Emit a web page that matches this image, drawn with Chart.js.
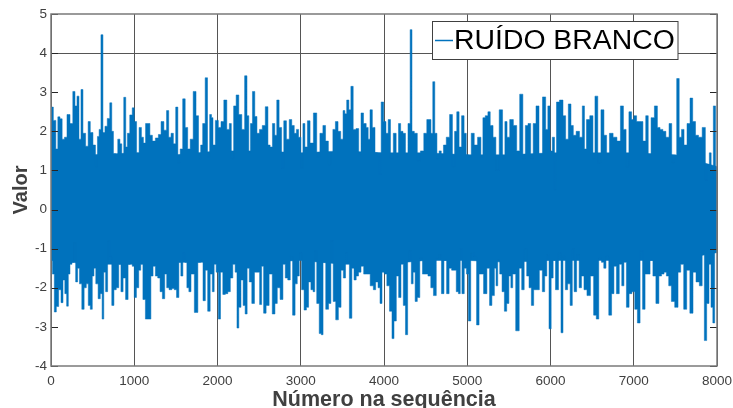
<!DOCTYPE html>
<html>
<head>
<meta charset="utf-8">
<title>Ruído branco</title>
<script src="https://cdn.jsdelivr.net/npm/chart.js@4"></script>
<style>
    html, body { margin: 0; padding: 0; background: #fff; overflow: hidden; }
    #wrap { position: relative; width: 733px; height: 408px; }
</style>
</head>
<body>
<div id="wrap"><canvas id="canvas" width="733" height="408"></canvas></div>
<script>
// Peaks: upper and lower outline of the noise band
const upperX = [0, 8, 48, 68, 96, 120, 148, 176, 208, 248, 276, 300, 324, 348, 372, 396, 436, 456, 488, 520, 548, 568, 588, 612, 636, 660, 692, 720, 740, 760, 788, 816, 840, 860, 888, 908, 928, 964, 988, 1012, 1044, 1072, 1100, 1120, 1152, 1176, 1200, 1236, 1272, 1308, 1336, 1376, 1400, 1428, 1456, 1484, 1512, 1536, 1568, 1596, 1628, 1656, 1688, 1728, 1756, 1788, 1808, 1836, 1868, 1892, 1920, 1936, 1956, 1992, 2028, 2056, 2096, 2128, 2156, 2176, 2212, 2236, 2276, 2308, 2344, 2364, 2388, 2404, 2436, 2460, 2488, 2520, 2556, 2592, 2620, 2644, 2676, 2700, 2724, 2756, 2784, 2808, 2848, 2876, 2908, 2936, 2960, 2988, 3016, 3036, 3064, 3096, 3128, 3176, 3208, 3252, 3280, 3316, 3348, 3372, 3400, 3432, 3464, 3496, 3520, 3540, 3564, 3592, 3612, 3648, 3680, 3712, 3736, 3772, 3800, 3820, 3844, 3876, 3908, 3932, 3952, 3980, 4012, 4036, 4064, 4092, 4132, 4160, 4188, 4212, 4244, 4272, 4304, 4324, 4348, 4380, 4420, 4456, 4500, 4528, 4552, 4576, 4596, 4624, 4648, 4676, 4700, 4728, 4768, 4808, 4836, 4860, 4888, 4916, 4948, 4976, 5000, 5028, 5068, 5100, 5148, 5180, 5196, 5236, 5260, 5292, 5328, 5360, 5408, 5440, 5464, 5492, 5528, 5580, 5608, 5652, 5684, 5712, 5748, 5776, 5808, 5844, 5880, 5928, 5956, 5980, 6008, 6036, 6060, 6084, 6132, 6168, 6196, 6232, 6260, 6288, 6328, 6368, 6396, 6420, 6444, 6500, 6520, 6548, 6588, 6624, 6660, 6688, 6728, 6776, 6820, 6860, 6892, 6924, 6960, 6988, 7016, 7052, 7092, 7128, 7160, 7188, 7228, 7268, 7300, 7332, 7368, 7404, 7444, 7468, 7500, 7532, 7560, 7588, 7620, 7660, 7692, 7724, 7760, 7796, 7848, 7872, 7896, 7920, 7940, 7972, 7992, 8000];
const upperY = [2.62, 2.62, 2.28, 1.55, 2.37, 2.32, 1.8, 1.85, 2.43, 2.2, 3.02, 2.65, 2.9, 1.8, 3.07, 1.95, 1.62, 2.25, 1.97, 1.65, 1.1, 1.87, 2.05, 4.47, 1.97, 2.13, 2.33, 2.73, 2.0, 1.43, 1.3, 1.8, 1.68, 1.4, 2.87, 1.6, 1.95, 2.42, 2.6, 2.25, 1.45, 2.1, 1.85, 1.7, 2.2, 2.2, 1.9, 1.75, 1.83, 1.92, 2.25, 2.03, 2.53, 1.85, 1.95, 1.68, 2.62, 1.2, 1.55, 2.83, 2.1, 1.55, 1.8, 3.02, 2.4, 1.3, 1.65, 2.2, 3.37, 1.35, 2.43, 2.35, 1.65, 2.28, 2.1, 2.25, 2.8, 2.05, 2.2, 1.3, 2.65, 2.93, 2.43, 2.05, 3.42, 2.4, 1.45, 2.2, 3.02, 2.38, 1.95, 2.05, 2.15, 2.63, 1.65, 1.6, 2.2, 1.9, 2.8, 2.1, 1.05, 2.27, 1.8, 2.3, 2.15, 1.95, 2.05, 1.85, 1.05, 2.2, 1.6, 2.27, 1.7, 2.47, 1.35, 1.95, 2.15, 1.75, 1.15, 1.45, 2.05, 2.25, 2.0, 1.8, 2.53, 2.45, 2.8, 2.55, 3.15, 2.05, 2.07, 1.4, 2.47, 2.2, 2.1, 1.8, 2.55, 2.1, 1.45, 1.35, 0.9, 2.75, 2.25, 1.95, 2.3, 1.3, 1.95, 1.35, 2.2, 2.0, 1.95, 1.4, 2.2, 4.6, 2.0, 1.95, 1.25, 1.5, 1.95, 2.3, 2.3, 1.95, 3.27, 1.95, 1.3, 1.5, 1.3, 1.65, 1.85, 2.43, 1.1, 2.0, 2.5, 1.6, 2.4, 1.95, 1.4, 1.35, 1.95, 1.65, 1.85, 1.35, 2.35, 2.4, 2.5, 2.15, 1.85, 1.0, 2.55, 1.3, 2.25, 1.85, 2.3, 2.15, 1.5, 2.95, 1.3, 2.15, 2.2, 1.3, 2.2, 2.65, 1.4, 2.88, 2.05, 2.65, 1.5, 1.85, 0.5, 2.75, 2.8, 2.4, 1.8, 2.7, 2.15, 1.9, 2.0, 1.85, 2.65, 1.55, 2.3, 2.4, 1.3, 2.9, 1.2, 2.55, 1.9, 1.4, 1.95, 1.85, 1.75, 2.65, 2.05, 1.1, 2.5, 2.3, 2.4, 2.25, 2.25, 1.75, 2.4, 1.4, 2.35, 2.65, 2.1, 2.05, 2.0, 1.85, 2.2, 1.2, 1.3, 3.35, 1.85, 2.05, 1.65, 2.2, 2.85, 2.25, 1.9, 1.85, 2.1, 0.75, 1.15, 1.45, 0.8, 2.65, 0.8, 0.8];
const lowerX = [0, 8, 28, 52, 76, 108, 132, 156, 176, 200, 216, 240, 264, 280, 312, 328, 356, 384, 412, 436, 460, 484, 508, 524, 552, 580, 604, 624, 644, 668, 692, 716, 744, 768, 800, 828, 852, 880, 912, 940, 964, 988, 1012, 1040, 1068, 1088, 1120, 1148, 1188, 1212, 1240, 1268, 1296, 1324, 1352, 1380, 1400, 1436, 1468, 1492, 1524, 1548, 1572, 1596, 1620, 1644, 1668, 1696, 1748, 1780, 1812, 1840, 1868, 1896, 1928, 1948, 1972, 1996, 2024, 2048, 2080, 2108, 2140, 2168, 2200, 2224, 2244, 2268, 2296, 2320, 2344, 2368, 2396, 2428, 2460, 2492, 2520, 2540, 2568, 2600, 2640, 2676, 2704, 2732, 2772, 2800, 2828, 2860, 2888, 2916, 2948, 2968, 2996, 3024, 3056, 3080, 3108, 3136, 3160, 3176, 3208, 3236, 3256, 3280, 3320, 3348, 3376, 3404, 3436, 3468, 3500, 3524, 3552, 3568, 3600, 3628, 3652, 3680, 3708, 3740, 3772, 3808, 3860, 3884, 3916, 3940, 3964, 3988, 4020, 4048, 4084, 4108, 4132, 4164, 4188, 4220, 4244, 4272, 4296, 4316, 4340, 4360, 4388, 4412, 4448, 4476, 4508, 4548, 4576, 4612, 4644, 4676, 4704, 4736, 4768, 4796, 4828, 4856, 4880, 4908, 4924, 4948, 4980, 5000, 5028, 5056, 5096, 5128, 5156, 5180, 5212, 5260, 5276, 5316, 5336, 5356, 5376, 5404, 5432, 5460, 5488, 5512, 5536, 5556, 5608, 5640, 5668, 5700, 5728, 5756, 5784, 5812, 5844, 5888, 5916, 5944, 5968, 5996, 6020, 6044, 6076, 6116, 6136, 6164, 6192, 6220, 6252, 6272, 6296, 6332, 6356, 6388, 6416, 6460, 6500, 6536, 6564, 6596, 6628, 6652, 6680, 6720, 6748, 6776, 6808, 6844, 6868, 6896, 6928, 6960, 6996, 7028, 7060, 7092, 7120, 7152, 7180, 7212, 7248, 7284, 7320, 7348, 7380, 7404, 7436, 7468, 7516, 7548, 7580, 7620, 7652, 7696, 7728, 7768, 7808, 7836, 7860, 7892, 7916, 7940, 7960, 7984, 8000];
const lowerY = [-1.0, -1.0, -1.65, -2.62, -2.48, -2.05, -2.38, -1.8, -2.15, -2.47, -1.65, -1.4, -1.35, -0.85, -1.85, -1.5, -1.9, -2.55, -2.0, -1.9, -2.45, -2.55, -1.7, -1.5, -1.9, -2.28, -2.15, -2.8, -1.6, -2.1, -0.8, -1.2, -2.45, -2.05, -2.0, -1.4, -2.1, -1.75, -2.3, -1.4, -1.35, -1.45, -2.25, -2.0, -1.55, -1.4, -2.3, -2.8, -2.8, -1.7, -1.45, -1.7, -1.75, -2.1, -2.28, -1.65, -2.0, -2.05, -2.02, -2.05, -2.25, -1.35, -1.7, -1.1, -1.35, -2.0, -2.1, -1.65, -2.63, -1.35, -1.3, -2.33, -1.55, -2.6, -1.65, -2.1, -1.4, -1.6, -2.8, -1.6, -2.17, -2.15, -2.1, -1.75, -1.4, -1.6, -3.03, -2.5, -1.8, -2.45, -2.67, -1.5, -1.85, -2.4, -1.6, -1.6, -2.43, -1.45, -2.65, -2.45, -1.65, -2.67, -2.4, -2.0, -2.3, -1.4, -1.75, -1.8, -1.2, -2.7, -1.9, -1.7, -1.1, -2.05, -2.57, -2.5, -1.85, -2.05, -2.1, -1.05, -2.4, -3.17, -3.2, -1.35, -2.55, -2.4, -0.8, -2.35, -2.82, -2.5, -1.55, -1.75, -1.1, -1.35, -2.78, -1.5, -1.8, -1.7, -1.6, -1.45, -1.65, -1.65, -1.95, -2.05, -1.85, -2.0, -2.4, -1.6, -1.65, -1.95, -2.6, -3.3, -2.85, -1.7, -2.25, -1.4, -2.45, -3.2, -1.3, -1.05, -1.9, -1.6, -2.35, -2.25, -1.25, -1.65, -1.65, -1.7, -2.0, -2.2, -1.25, -1.15, -2.15, -1.3, -2.15, -1.5, -1.55, -1.55, -2.1, -2.15, -1.0, -2.15, -1.5, -1.65, -2.85, -1.1, -1.2, -2.95, -1.65, -1.65, -2.15, -1.5, -2.45, -2.2, -1.5, -1.95, -1.3, -1.65, -2.1, -2.6, -2.4, -1.7, -2.0, -1.65, -3.1, -1.5, -2.05, -1.0, -1.7, -2.0, -2.45, -2.05, -2.05, -1.55, -2.1, -1.7, -1.15, -3.05, -1.75, -1.3, -2.05, -1.1, -3.15, -1.2, -2.05, -1.9, -2.45, -1.0, -2.1, -1.15, -2.0, -1.7, -2.05, -2.2, -1.7, -2.7, -2.8, -1.25, -1.35, -1.5, -1.2, -2.7, -2.15, -1.45, -2.15, -1.4, -1.95, -1.35, -2.5, -2.15, -2.1, -2.55, -2.9, -1.05, -2.55, -1.65, -1.65, -1.3, -1.7, -2.4, -1.7, -1.65, -1.6, -1.7, -1.95, -2.35, -2.5, -1.6, -1.4, -2.55, -1.55, -2.65, -1.6, -1.85, -1.95, -1.05, -3.35, -2.4, -1.4, -2.5, -2.9, -1.1, -1.1];

// Level of the solid part of the band, every 500 samples
const bodyX = [0, 500, 1000, 1500, 2000, 2500, 3000, 3500, 4000, 4500, 5000, 5500, 6000, 6500, 7000, 7500, 8000];
const bodyUpper = [1.5, 1.4, 1.45, 1.4, 1.5, 1.5, 1.45, 1.5, 1.45, 1.45, 1.4, 1.4, 1.45, 1.45, 1.45, 1.4, 1.1];
const bodyLower = [-1.3, -1.4, -1.4, -1.35, -1.35, -1.35, -1.3, -1.4, -1.4, -1.3, -1.3, -1.35, -1.3, -1.3, -1.3, -1.3, -1.1];

const seriesName = "RUÍDO BRANCO";
const xLabel = "Número na sequência";
const yLabel = "Valor";
const lineColor = "#0072BD";
const textColor = "#404040";
const gridColor = "#555555";
const boxColor = "#7a7a7a";

const toPoints = (xs, ys) => xs.map((x, i) => ({ x: x, y: ys[i] }));

const bandStyle = {
    borderColor: lineColor,
    backgroundColor: lineColor,
    borderWidth: 0.5,
    pointRadius: 0,
};

// Axes box, inward ticks and the legend sit on top of the band
const boxAndLegend = {
    id: "boxAndLegend",
    afterDraw(chart) {
        const { ctx, chartArea: area, scales } = chart;
        ctx.save();

        ctx.strokeStyle = "#262626";
        ctx.lineWidth = 1;
        ctx.beginPath();
        scales.y.ticks.forEach(tick => {
            const y = Math.round(scales.y.getPixelForValue(tick.value)) + 0.5;
            ctx.moveTo(area.left, y);
            ctx.lineTo(area.left + 7, y);
            ctx.moveTo(area.right, y);
            ctx.lineTo(area.right - 7, y);
        });
        ctx.stroke();

        ctx.strokeStyle = boxColor;
        ctx.lineWidth = 1.5;
        ctx.strokeRect(area.left, area.top, area.right - area.left, area.bottom - area.top);

        // Legend
        ctx.fillStyle = "#ffffff";
        ctx.fillRect(432.5, 21.5, 245.5, 38);
        ctx.strokeStyle = "#404040";
        ctx.lineWidth = 1;
        ctx.strokeRect(432.5, 21.5, 245.5, 38);
        ctx.strokeStyle = lineColor;
        ctx.lineWidth = 1.5;
        ctx.beginPath();
        ctx.moveTo(435, 40.5);
        ctx.lineTo(453, 40.5);
        ctx.stroke();
        ctx.fillStyle = "#000000";
        ctx.font = '28.4px "Liberation Sans"';
        ctx.textAlign = "left";
        ctx.textBaseline = "middle";
        ctx.fillText(seriesName, 454, 41);

        ctx.restore();
    },
};

new Chart(document.getElementById("canvas"), {
    type: "line",
    data: {
        datasets: [
            // the two outline fills overlap around zero so no seam shows
            { label: seriesName, data: toPoints(upperX, upperY), fill: { value: -0.5 }, stepped: "middle", ...bandStyle },
            { label: seriesName, data: toPoints(lowerX, lowerY), fill: { value: 0.5 }, stepped: "middle", ...bandStyle },
            { label: seriesName, data: toPoints(bodyX, bodyUpper), fill: { value: -0.5 }, ...bandStyle },
            { label: seriesName, data: toPoints(bodyX, bodyLower), fill: { value: 0.5 }, ...bandStyle },
        ],
    },
    options: {
        responsive: false,
        animation: false,
        layout: { padding: { top: 14, right: 16, left: 0, bottom: 0 } },
        plugins: { legend: { display: false }, tooltip: { enabled: false } },
        scales: {
            x: {
                type: "linear",
                min: 0,
                max: 8000,
                afterFit: scale => { scale.height = 42; scale.paddingRight = 0; },
                ticks: {
                    stepSize: 1000,
                    maxRotation: 0,
                    padding: 7,
                    color: textColor,
                    font: { family: "Liberation Sans", size: 13.5 },
                    callback: value => String(value),
                },
                grid: { color: gridColor, lineWidth: 1, drawTicks: false },
                border: { display: false },
                title: {
                    display: true,
                    text: xLabel,
                    color: textColor,
                    padding: { top: 0, bottom: -5 },
                    font: { family: "Liberation Sans", size: 21.5, weight: "bold" },
                },
            },
            y: {
                min: -4,
                max: 5,
                afterFit: scale => { scale.width = 51; },
                ticks: {
                    stepSize: 1,
                    padding: 4,
                    color: textColor,
                    font: { family: "Liberation Sans", size: 13.5 },
                },
                // only the line at 4 shows in the picture
                grid: {
                    color: ctx => (ctx.tick && ctx.tick.value === 4 ? gridColor : "rgba(0,0,0,0)"),
                    lineWidth: 1,
                    drawTicks: false,
                },
                border: { display: false },
                title: {
                    display: true,
                    text: yLabel,
                    color: textColor,
                    padding: { top: 9, bottom: 0 },
                    font: { family: "Liberation Sans", size: 20, weight: "bold" },
                },
            },
        },
    },
    plugins: [boxAndLegend],
});
</script>
</body>
</html>
